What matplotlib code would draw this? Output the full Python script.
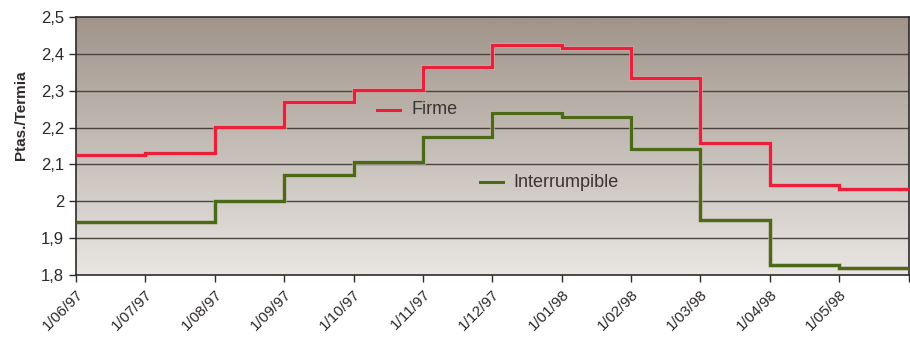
import numpy as np
import matplotlib
matplotlib.use("Agg")
import matplotlib.pyplot as plt

# Datos (Ptas./Termia, valor mensual)
meses = ["1/06/97", "1/07/97", "1/08/97", "1/09/97", "1/10/97", "1/11/97",
         "1/12/97", "1/01/98", "1/02/98", "1/03/98", "1/04/98", "1/05/98"]
firme = [2.126, 2.130, 2.202, 2.269, 2.302, 2.364,
         2.424, 2.415, 2.333, 2.157, 2.043, 2.033]
interrumpible = [1.944, 1.944, 2.001, 2.071, 2.107, 2.174,
                 2.240, 2.229, 2.142, 1.949, 1.827, 1.818]
y_ticks = [1.8, 1.9, 2.0, 2.1, 2.2, 2.3, 2.4, 2.5]
y_labels = ["1,8", "1,9", "2", "2,1", "2,2", "2,3", "2,4", "2,5"]

plt.rcParams["font.family"] = ["Liberation Sans", "DejaVu Sans"]

fig = plt.figure(figsize=(9.1, 3.39), dpi=100)
ax = fig.add_axes([0.0835, 0.189, 0.915, 0.761])

n = len(meses)
bordes = np.arange(n + 1)

# Fondo degradado
grad = np.linspace(0, 1, 256).reshape(-1, 1)
top = np.array([160, 148, 138]) / 255
bot = np.array([233, 230, 227]) / 255
img = top[None, None, :] * (1 - grad[:, :, None]) + bot[None, None, :] * grad[:, :, None]
ax.imshow(img, extent=[0, n, 1.8, 2.5], aspect="auto", origin="upper", zorder=0)

# Rejilla
for v in y_ticks[1:-1]:
    ax.axhline(v, color="#4a4340", lw=1.0, zorder=1)

# Series escalonadas
for datos, color in [(firme, "#ec1f3a"), (interrumpible, "#4b6a17")]:
    ax.stairs(datos, bordes, baseline=None, color="#d8c8c0", lw=3.6, zorder=2, alpha=0.6)
    ax.stairs(datos, bordes, baseline=None, color=color, lw=2.4, zorder=3)

# Leyendas dentro del gráfico
ax.plot([4.34, 4.67], [2.248, 2.248], color="#ec1f3a", lw=2.2, zorder=4)
ax.text(4.84, 2.248, "Firme", fontsize=13, color="#3a3433", va="center", zorder=4)
ax.plot([5.82, 6.15], [2.052, 2.052], color="#4b6a17", lw=2.2, zorder=4)
ax.text(6.31, 2.052, "Interrumpible", fontsize=13, color="#3a3433", va="center", zorder=4)

ax.set_xlim(0, n)
ax.set_ylim(1.8, 2.5)
ax.set_xticks(np.arange(n + 1))
ax.set_xticklabels(meses + [""], rotation=45, ha="right", rotation_mode="anchor",
                   fontsize=11, color="#2e2a29")
ax.set_yticks(y_ticks)
ax.set_yticklabels(y_labels, fontsize=12, color="#2e2a29")
ax.tick_params(axis="both", direction="out", length=5, width=1, color="#2e2a29")
ax.tick_params(axis="x", pad=4)
for s in ax.spines.values():
    s.set_color("#2e2a29")
    s.set_linewidth(1.2)

ax.set_ylabel("Ptas./Termia", fontsize=11, fontweight="bold", color="#2e2a29")
ax.yaxis.set_label_coords(-0.058, 0.62)

fig.savefig("out.png", dpi=100)
